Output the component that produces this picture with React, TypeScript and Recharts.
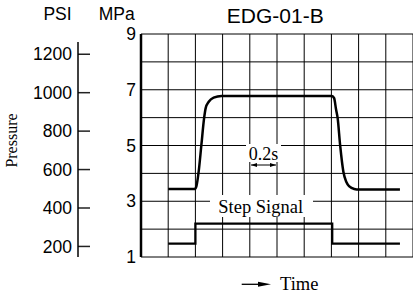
import React from "react";
import { LineChart, Line, XAxis, YAxis, CartesianGrid } from "recharts";

// time axis in grid divisions (each division = 0.1 s)
const timeTicks = [0, 1, 2, 3, 4, 5, 6, 7, 8, 9, 10];
const mpaTicks = [1, 2, 3, 4, 5, 6, 7, 8, 9];
const psiTicks = [200, 300, 400, 500, 600, 700, 800, 900, 1000, 1100, 1200];

// pressure response (MPa)
const pressureT = [1, 1.98, 2.04, 2.12, 2.22, 2.32, 2.38, 2.49, 2.67, 2.96, 7.02, 7.1, 7.17, 7.23, 7.32, 7.44, 7.55, 7.66, 7.84, 8.02, 9.52];
const pressureP = [3.44, 3.44, 3.55, 4.06, 5.02, 5.98, 6.35, 6.57, 6.72, 6.78, 6.78, 6.7, 6.3, 5.98, 5.02, 4.06, 3.69, 3.53, 3.44, 3.42, 3.42];

// step signal (drawn on the same MPa scale)
const stepT = [1, 2, 2, 7.03, 7.03, 9.52];
const stepV = [1.48, 1.48, 2.2, 2.2, 1.48, 1.48];

const pressure = pressureT.map((t, i) => ({ t, v: pressureP[i] }));
const step = stepT.map((t, i) => ({ t, v: stepV[i] }));

const PSI_PER_MPA = 145.038;
const mpaDomain = [1, 9];
const psiDomain = mpaDomain.map((m) => m * PSI_PER_MPA);

const sans = "'Liberation Sans', Arial, sans-serif";
const serif = "'Liberation Serif', 'Times New Roman', serif";

const PsiTick = (props: any) => {
  const { x, y, payload } = props;
  const v = payload.value;
  return (
    <g>
      <line x1={x + 6} x2={x + 18} y1={y} y2={y} stroke="#222" strokeWidth={1.5} />
      {v % 200 === 0 && (
        <text x={x} y={y} dy="0.355em" textAnchor="end" fontFamily={sans} fontSize={17.5} fill="#000">
          {v}
        </text>
      )}
    </g>
  );
};

export default function App() {
  return (
    <div style={{ position: "absolute", left: 0, top: 0, width: 413, height: 295, background: "#fff" }}>
      <LineChart data={pressure} width={413} height={295} margin={{ top: 34, right: 0, bottom: 38, left: 0 }}>
        <CartesianGrid yAxisId="mpa" stroke="#000" strokeWidth={1} />
        <XAxis
          dataKey="t"
          type="number"
          domain={[0, 10]}
          ticks={timeTicks}
          allowDataOverflow
          tickFormatter={() => ""}
          tickLine={false}
          height={0}
          axisLine={{ stroke: "#000", strokeWidth: 2.5 }}
        />
        <YAxis
          yAxisId="mpa"
          type="number"
          domain={mpaDomain}
          ticks={mpaTicks}
          allowDataOverflow
          width={63}
          tickLine={false}
          tickSize={0}
          tickMargin={5}
          tickFormatter={(v) => (v % 2 === 1 ? String(v) : "")}
          tick={{ fill: "#000", fontFamily: sans, fontSize: 17.5 }}
          axisLine={{ stroke: "#000", strokeWidth: 2.5 }}
        />
        <YAxis
          yAxisId="psi"
          type="number"
          domain={psiDomain}
          ticks={psiTicks}
          allowDataOverflow
          width={78}
          tickLine={false}
          tickSize={0}
          tickMargin={6}
          tick={<PsiTick />}
          axisLine={false}
        />
        <Line
          yAxisId="mpa"
          dataKey="v"
          type="monotone"
          stroke="#000"
          strokeWidth={2.5}
          dot={false}
          isAnimationActive={false}
        />
        <Line
          yAxisId="mpa"
          data={step}
          dataKey="v"
          type="linear"
          stroke="#000"
          strokeWidth={2.3}
          dot={false}
          isAnimationActive={false}
        />
      </LineChart>
      <svg width={413} height={295} style={{ position: "absolute", left: 0, top: 0, pointerEvents: "none" }}>
        {/* PSI axis spine, shorter than the plot */}
        <line x1={78} x2={78} y1={42} y2={257} stroke="#000" strokeWidth={1.5} />

        <text x={57.5} y={20} textAnchor="middle" fontFamily={sans} fontSize={17.5}>PSI</text>
        <text x={116.7} y={20} textAnchor="middle" fontFamily={sans} fontSize={17.5}>MPa</text>
        <text x={275.3} y={23.3} textAnchor="middle" fontFamily={sans} fontSize={21}>EDG-01-B</text>
        <text transform="translate(17,140.5) rotate(-90)" textAnchor="middle" fontFamily={serif} fontSize={16}>Pressure</text>

        <rect x={246} y={144} width={35} height={18} fill="#fff" />
        <text x={263.5} y={160} textAnchor="middle" fontFamily={serif} fontSize={18}>0.2s</text>
        <line x1={251} x2={276} y1={165} y2={165} stroke="#000" strokeWidth={1} />
        <path d="M251,165 L257,163 L257,167 Z" fill="#000" />
        <path d="M276,165 L270,163 L270,167 Z" fill="#000" />

        <rect x={210} y={195} width={103} height={22} fill="#fff" />
        <text x={218.3} y={213} fontFamily={serif} fontSize={18.5}>Step Signal</text>

        <line x1={241.7} x2={262} y1={284.3} y2={284.3} stroke="#000" strokeWidth={1.3} />
        <path d="M271,284.3 L258,281.8 L258,286.8 Z" fill="#000" />
        <text x={280} y={290} fontFamily={serif} fontSize={18.5}>Time</text>
      </svg>
    </div>
  );
}
